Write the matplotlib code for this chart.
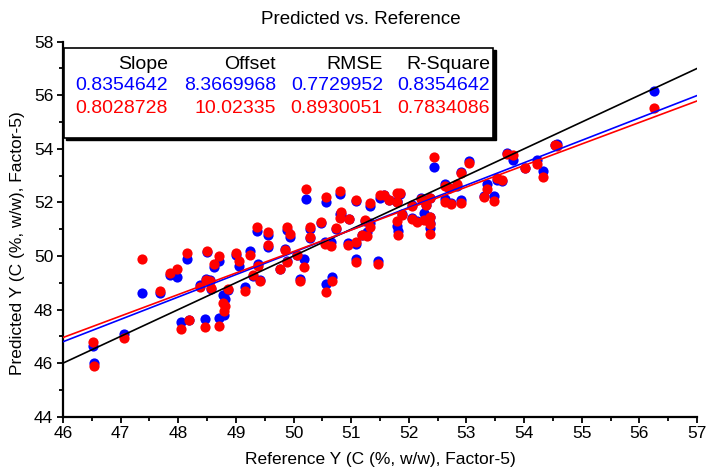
import numpy as np
import matplotlib
matplotlib.use("Agg")
import matplotlib.pyplot as plt
from matplotlib.patches import Rectangle

plt.rcParams['font.family'] = ['Liberation Sans', 'DejaVu Sans']

# reference values and the two predictions (blue / red)
ref_x = [46.52, 46.53, 47.06, 47.37, 47.68, 47.86, 47.97, 48.16, 48.19, 48.05,
         48.38, 48.47, 48.50, 48.48, 48.55, 48.56, 48.62, 48.70, 48.71, 48.77,
         48.81, 48.79, 48.87, 49.01, 49.05, 49.15, 49.24, 49.29, 49.37, 49.41,
         49.39, 49.55, 49.55, 49.77, 49.85, 49.88, 49.88, 49.94, 50.06, 50.11,
         50.19, 50.22, 50.28, 50.28, 50.48, 50.54, 50.56, 50.56, 50.66, 50.65,
         50.74, 50.80, 50.81, 50.83, 50.94, 50.96, 51.09, 51.09, 51.09, 51.19,
         51.27, 51.24, 51.33, 51.33, 51.46, 51.50, 51.57, 51.65, 51.79, 51.80,
         51.82, 51.85, 51.80, 51.88, 52.05, 52.05, 52.14, 52.21, 52.26, 52.30,
         52.36, 52.36, 52.36, 52.37, 52.44, 52.62, 52.62, 52.69, 52.73, 52.83,
         52.90, 52.90, 53.04, 53.31, 53.36, 53.48, 53.53, 53.62, 53.71, 53.81,
         54.02, 54.22, 54.33, 54.54, 54.57, 56.25]
pred_blue = [46.65, 46.00, 47.09, 48.61, 48.60, 49.30, 49.20, 49.88, 47.62, 47.52,
             48.90, 47.64, 50.15, 49.13, 49.10, 48.78, 49.58, 49.82, 47.70, 48.55,
             48.38, 47.78, 48.72, 50.02, 49.62, 48.86, 50.18, 49.24, 50.92, 49.10,
             49.70, 50.78, 50.33, 49.50, 50.25, 49.82, 50.96, 50.72, 50.02, 49.15,
             49.88, 52.12, 51.00, 50.68, 51.22, 50.54, 48.96, 52.01, 49.23, 50.52,
             51.02, 51.55, 52.30, 51.58, 50.48, 51.38, 52.07, 49.87, 50.45, 50.80,
             50.88, 51.32, 51.25, 51.85, 49.83, 52.16, 52.26, 52.09, 52.00, 51.12,
             50.95, 52.30, 52.05, 51.58, 51.90, 51.40, 51.30, 52.16, 51.60, 51.92,
             52.18, 51.47, 51.04, 51.25, 53.34, 52.12, 52.68, 52.55, 51.96, 52.62,
             52.10, 53.15, 53.55, 52.25, 52.68, 52.24, 52.85, 52.80, 53.83, 53.59,
             53.30, 53.59, 53.18, 54.15, 54.18, 56.17]
pred_red = [46.80, 45.90, 46.92, 49.88, 48.68, 49.38, 49.51, 50.12, 47.60, 47.27,
            48.84, 47.34, 50.18, 49.12, 49.08, 48.80, 49.70, 49.99, 47.39, 48.26,
            48.13, 47.93, 48.76, 50.10, 49.81, 48.70, 50.02, 49.28, 51.08, 49.08,
            49.63, 50.91, 50.41, 49.52, 50.24, 49.77, 51.07, 50.82, 50.03, 49.08,
            49.58, 52.49, 51.10, 50.70, 51.27, 50.43, 48.66, 52.19, 49.05, 50.38,
            51.06, 51.40, 52.42, 51.63, 50.40, 51.38, 52.10, 49.78, 50.54, 50.79,
            50.74, 51.35, 51.10, 51.98, 49.70, 52.28, 52.28, 52.08, 52.34, 51.29,
            50.80, 52.37, 52.03, 51.53, 51.87, 51.37, 51.28, 52.12, 51.35, 51.90,
            52.16, 51.47, 50.82, 51.20, 53.71, 52.03, 52.60, 52.53, 51.94, 52.68,
            51.97, 53.11, 53.49, 52.19, 52.49, 52.05, 52.90, 52.84, 53.81, 53.77,
            53.28, 53.44, 52.96, 54.15, 54.12, 55.51]

headers = ["Slope", "Offset", "RMSE", "R-Square"]
stats_blue = ["0.8354642", "8.3669968", "0.7729952", "0.8354642"]
stats_red = ["0.8028728", "10.02335", "0.8930051", "0.7834086"]
slope_blue, offset_blue = 0.8354642, 8.3669968
slope_red, offset_red = 0.8028728, 10.02335

fig = plt.figure(figsize=(7.09, 4.69), dpi=100)
ax = fig.add_axes([63 / 709, 1 - 416.7 / 469, 634 / 709, 375 / 469])

ax.scatter(ref_x, pred_blue, s=54, color='#0000ff', linewidths=0, zorder=3)
ax.scatter(ref_x, pred_red, s=54, color='#ff0000', linewidths=0, zorder=4)

xl = np.array([46, 57])
ax.plot(xl, xl, color='black', lw=1.2, zorder=5)
ax.plot(xl, slope_blue * xl + offset_blue, color='#0000ff', lw=1.2, zorder=5)
ax.plot(xl, slope_red * xl + offset_red, color='#ff0000', lw=1.2, zorder=5)

ax.set_xlim(46, 57)
ax.set_ylim(44, 58)
ax.set_xticks(np.arange(46, 58, 1))
ax.set_xticks(np.arange(46.5, 57, 1), minor=True)
ax.set_yticks(np.arange(44, 59, 2))
ax.set_yticks(np.arange(45, 58, 2), minor=True)
for s in ['top', 'right']:
    ax.spines[s].set_visible(False)
for s in ['left', 'bottom']:
    ax.spines[s].set_linewidth(1.6)
ax.tick_params(which='major', direction='out', length=4, width=1.3, labelsize=12.5, pad=3)
ax.tick_params(which='minor', direction='out', length=3, width=1.3)

# stats table with shadowed box
ax.add_patch(Rectangle((0.005, 0.737), 0.678, 0.24, transform=ax.transAxes,
                       facecolor='black', edgecolor='black', lw=1, zorder=6, clip_on=False))
ax.add_patch(Rectangle((0.002, 0.743), 0.676, 0.24, transform=ax.transAxes,
                       facecolor='white', edgecolor='black', lw=1.2, zorder=7, clip_on=False))
col_x = [0.1656, 0.336, 0.5047, 0.6735]
for i in range(4):
    ax.text(col_x[i], 0.9405, headers[i], transform=ax.transAxes, ha='right', va='center',
            fontsize=14, color='black', zorder=8)
    ax.text(col_x[i], 0.8845, stats_blue[i], transform=ax.transAxes, ha='right', va='center',
            fontsize=14, color='#0000ff', zorder=8)
    ax.text(col_x[i], 0.823, stats_red[i], transform=ax.transAxes, ha='right', va='center',
            fontsize=14, color='#ff0000', zorder=8)

fig.text(361 / 709, 1 - 19 / 469, "Predicted vs. Reference", ha='center', va='center', fontsize=13.5)
fig.text(380 / 709, 1 - 459 / 469, "Reference Y (C (%, w/w), Factor-5)", ha='center', va='center',
         fontsize=12.5)
fig.text(18 / 709, 1 - 243 / 469, "Predicted Y (C (%, w/w), Factor-5)", ha='center', va='center',
         rotation=90, fontsize=12.5)

fig.savefig("out.png", dpi=100)
